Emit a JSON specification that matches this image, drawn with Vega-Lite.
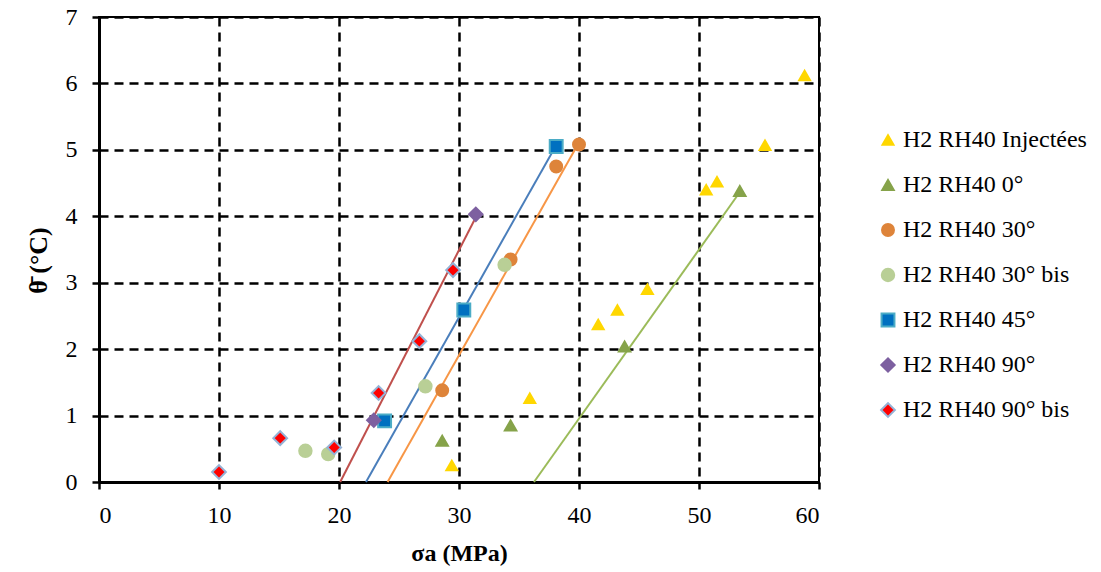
{
  "$schema": "https://vega.github.io/schema/vega-lite/v6.json",
  "width": 720,
  "height": 465,
  "autosize": {"type": "none"},
  "padding": {"left": 99, "top": 17, "right": 282, "bottom": 90},
  "config": {
    "view": {"stroke": "black", "strokeWidth": 2},
    "axis": {"labelFont": "Liberation Serif", "titleFont": "Liberation Serif"},
    "legend": {
      "orient": "none",
      "legendX": 777,
      "legendY": 111,
      "labelFontSize": 24,
      "labelFont": "Liberation Serif",
      "labelColor": "black",
      "labelLimit": 400,
      "symbolSize": 150,
      "symbolStrokeWidth": 2,
      "rowPadding": 21,
      "labelOffset": 3,
      "padding": 0
    }
  },
  "datasets": {
    "pts": [
      {"series": "H2 RH40 Injectées", "x": 29.4, "y": 0.25},
      {"series": "H2 RH40 Injectées", "x": 35.9, "y": 1.26},
      {"series": "H2 RH40 Injectées", "x": 41.6, "y": 2.37},
      {"series": "H2 RH40 Injectées", "x": 43.2, "y": 2.59},
      {"series": "H2 RH40 Injectées", "x": 45.7, "y": 2.9},
      {"series": "H2 RH40 Injectées", "x": 50.6, "y": 4.4},
      {"series": "H2 RH40 Injectées", "x": 51.5, "y": 4.52},
      {"series": "H2 RH40 Injectées", "x": 55.5, "y": 5.07},
      {"series": "H2 RH40 Injectées", "x": 58.8, "y": 6.12},
      {"series": "H2 RH40 0°", "x": 28.6, "y": 0.62},
      {"series": "H2 RH40 0°", "x": 34.3, "y": 0.85},
      {"series": "H2 RH40 0°", "x": 43.8, "y": 2.04},
      {"series": "H2 RH40 0°", "x": 53.4, "y": 4.38},
      {"series": "H2 RH40 30°", "x": 28.6, "y": 1.38},
      {"series": "H2 RH40 30°", "x": 34.3, "y": 3.35},
      {"series": "H2 RH40 30°", "x": 38.1, "y": 4.75},
      {"series": "H2 RH40 30°", "x": 40.0, "y": 5.08},
      {"series": "H2 RH40 30° bis", "x": 17.2, "y": 0.47},
      {"series": "H2 RH40 30° bis", "x": 19.1, "y": 0.42},
      {"series": "H2 RH40 30° bis", "x": 27.2, "y": 1.44},
      {"series": "H2 RH40 30° bis", "x": 33.8, "y": 3.27},
      {"series": "H2 RH40 45°", "x": 23.8, "y": 0.92},
      {"series": "H2 RH40 45°", "x": 30.4, "y": 2.59},
      {"series": "H2 RH40 45°", "x": 38.1, "y": 5.05},
      {"series": "H2 RH40 90°", "x": 22.9, "y": 0.93},
      {"series": "H2 RH40 90°", "x": 31.4, "y": 4.03},
      {"series": "H2 RH40 90° bis", "x": 10.0, "y": 0.15},
      {"series": "H2 RH40 90° bis", "x": 15.1, "y": 0.66},
      {"series": "H2 RH40 90° bis", "x": 19.6, "y": 0.52},
      {"series": "H2 RH40 90° bis", "x": 23.3, "y": 1.34},
      {"series": "H2 RH40 90° bis", "x": 26.7, "y": 2.12},
      {"series": "H2 RH40 90° bis", "x": 29.5, "y": 3.19}
    ],
    "trends": [
      {"trend": "90", "x": 20.1, "y": 0},
      {"trend": "90", "x": 31.5, "y": 4.02},
      {"trend": "45", "x": 22.25, "y": 0},
      {"trend": "45", "x": 38.1, "y": 5.07},
      {"trend": "30", "x": 24.05, "y": 0},
      {"trend": "30", "x": 39.9, "y": 5.08},
      {"trend": "0", "x": 36.25, "y": 0},
      {"trend": "0", "x": 53.35, "y": 4.35}
    ]
  },
  "encoding": {
    "x": {
      "field": "x", "type": "quantitative",
      "scale": {"domain": [0, 60], "nice": false, "zero": false},
      "axis": {
        "orient": "bottom",
        "values": [0, 10, 20, 30, 40, 50, 60],
        "title": "σa (MPa)", "titleFont": "Liberation Serif", "titleFontSize": 24, "titleFontWeight": "bold", "titleColor": "black",
        "titleBaseline": "alphabetic", "titleY": 78,
        "labelFont": "Liberation Serif", "labelFontSize": 24, "labelColor": "black", "labelPadding": 14,
        "domainColor": "black", "domainWidth": 3,
        "tickColor": "black", "tickWidth": 2.5, "tickSize": 7,
        "grid": true, "gridColor": "black", "gridDash": [9, 6], "gridWidth": 2.5
      }
    },
    "y": {
      "field": "y", "type": "quantitative",
      "scale": {"domain": [0, 7], "nice": false, "zero": false},
      "axis": {
        "orient": "left",
        "values": [0, 1, 2, 3, 4, 5, 6, 7],
        "title": "θ̄ (°C)", "titleFont": "Liberation Serif", "titleFontSize": 26, "titleFontWeight": "bold", "titleColor": "black",
        "titleX": -61, "titleY": 243, "titleAngle": -90, "titleBaseline": "middle", "titleAlign": "center",
        "labelFont": "Liberation Serif", "labelFontSize": 24, "labelColor": "black", "labelPadding": 15,
        "domainColor": "black", "domainWidth": 3,
        "tickColor": "black", "tickWidth": 2.5, "tickSize": 7,
        "grid": true, "gridColor": "black", "gridDash": [9, 6], "gridWidth": 2.5
      }
    }
  },
  "layer": [
    {
      "data": {"name": "trends"},
      "transform": [{"filter": "datum.trend == '90'"}],
      "mark": {"type": "line", "strokeWidth": 2, "color": "#C0504D"}
    },
    {
      "data": {"name": "trends"},
      "transform": [{"filter": "datum.trend == '45'"}],
      "mark": {"type": "line", "strokeWidth": 2, "color": "#4A7EBB"}
    },
    {
      "data": {"name": "trends"},
      "transform": [{"filter": "datum.trend == '30'"}],
      "mark": {"type": "line", "strokeWidth": 2, "color": "#F79646"}
    },
    {
      "data": {"name": "trends"},
      "transform": [{"filter": "datum.trend == '0'"}],
      "mark": {"type": "line", "strokeWidth": 2, "color": "#9BBB59"}
    },
    {
      "data": {"name": "pts"},
      "mark": {"type": "point", "filled": true, "opacity": 1, "strokeWidth": 2},
      "encoding": {
        "color": {
          "field": "series", "type": "nominal",
          "scale": {
            "domain": ["H2 RH40 Injectées", "H2 RH40 0°", "H2 RH40 30°", "H2 RH40 30° bis", "H2 RH40 45°", "H2 RH40 90°", "H2 RH40 90° bis"],
            "range": ["#FFD700", "#86A34A", "#DE843A", "#B9CF96", "#0070C0", "#7D60A0", "#FF0000"]
          },
          "legend": {"title": null}
        },
        "stroke": {
          "field": "series", "type": "nominal",
          "scale": {
            "domain": ["H2 RH40 Injectées", "H2 RH40 0°", "H2 RH40 30°", "H2 RH40 30° bis", "H2 RH40 45°", "H2 RH40 90°", "H2 RH40 90° bis"],
            "range": ["#FFD700", "#86A34A", "#DE843A", "#B9CF96", "#4BACC6", "#7D60A0", "#95B3D7"]
          },
          "legend": {"title": null}
        },
        "shape": {
          "field": "series", "type": "nominal",
          "scale": {
            "domain": ["H2 RH40 Injectées", "H2 RH40 0°", "H2 RH40 30°", "H2 RH40 30° bis", "H2 RH40 45°", "H2 RH40 90°", "H2 RH40 90° bis"],
            "range": ["triangle-up", "triangle-up", "circle", "circle", "square", "diamond", "diamond"]
          },
          "legend": {"title": null}
        },
        "size": {
          "field": "series", "type": "nominal",
          "scale": {
            "domain": ["H2 RH40 Injectées", "H2 RH40 0°", "H2 RH40 30°", "H2 RH40 30° bis", "H2 RH40 45°", "H2 RH40 90°", "H2 RH40 90° bis"],
            "range": [120, 190, 190, 190, 170, 190, 80]
          },
          "legend": null
        }
      }
    }
  ]
}
